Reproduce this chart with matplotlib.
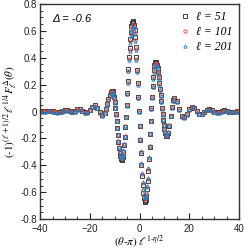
import matplotlib
matplotlib.use("Agg")
import matplotlib.pyplot as plt
from matplotlib.ticker import MultipleLocator

plt.rcParams["font.family"] = ["Liberation Sans", "DejaVu Sans"]
plt.rcParams["mathtext.fontset"] = "stix"

# scaled angle (theta - pi) * l^(1 - eta/2)
x_scaled = [-40, -39, -38, -37, -36, -35, -34, -33, -32, -31, -30, -29, -28, -27,
            -26, -25, -24, -23, -22, -21, -20, -19, -18, -17, -16, -15, -14,
            -13.5, -13, -12.5, -12, -11.5, -11, -10.5, -10, -9.5, -9, -8.5, -8,
            -7.5, -7, -6.5, -6, -5.5, -5, -4.5, -4, -3.5, -3, -2.5, -2, -1.5, -1,
            -0.5, 0, 0.5, 1, 1.5, 2, 2.5, 3, 3.5, 4, 4.5, 5, 5.5, 6, 6.5, 7, 7.5,
            8, 8.5, 9, 9.5, 10, 10.5, 11, 11.5, 12, 12.5, 13, 13.5, 14,
            15, 16, 17, 18, 19, 20, 21, 22, 23, 24, 25, 26, 27, 28, 29, 30, 31,
            32, 33, 34, 35, 36, 37, 38, 39, 40]

f_51 = [0.002, 0.003, 0.005, 0.006, 0.007, 0.005, -0.001, -0.003, -0.001, 0.005,
        0.010, 0.012, 0.007, -0.002, 0.001, 0.018, 0.020, 0.007, -0.006, -0.005,
        0.013, 0.037, 0.048, 0.030, -0.006, -0.029, -0.010,
        0.019, 0.056, 0.093, 0.126, 0.148, 0.156, 0.134, 0.072, -0.019, -0.124,
        -0.227, -0.307, -0.353, -0.356, -0.301, -0.190, -0.038, 0.137, 0.314,
        0.470, 0.591, 0.658, 0.664, 0.604, 0.480, 0.307, 0.107, -0.107, -0.307,
        -0.480, -0.604, -0.664, -0.657, -0.579, -0.443, -0.265, -0.072, 0.111,
        0.257, 0.348, 0.370, 0.347, 0.293, 0.213, 0.122, 0.026, -0.063, -0.132,
        -0.175, -0.184, -0.160, -0.105, -0.034, 0.035, 0.085, 0.104,
        0.077, 0.016, -0.036, -0.044, -0.019, 0.016, 0.036, 0.029, 0.004, -0.016,
        -0.015, -0.001, 0.014, 0.016, 0.009, -0.001, -0.006, -0.003, 0.005,
        0.008, 0.006, 0.000, -0.002, 0.000, 0.003, 0.005]

f_101 = [0.000, 0.001, 0.003, 0.004, 0.005, 0.003, -0.003, -0.005, -0.003, 0.003,
         0.008, 0.010, 0.005, -0.004, -0.001, 0.016, 0.018, 0.005, -0.008, -0.007,
         0.011, 0.035, 0.045, 0.028, -0.007, -0.029, -0.011,
         0.017, 0.053, 0.089, 0.121, 0.142, 0.150, 0.129, 0.069, -0.019, -0.121,
         -0.220, -0.298, -0.343, -0.345, -0.292, -0.185, -0.037, 0.133, 0.305,
         0.457, 0.574, 0.639, 0.645, 0.586, 0.466, 0.298, 0.104, -0.104, -0.298,
         -0.466, -0.586, -0.645, -0.637, -0.562, -0.430, -0.257, -0.070, 0.108,
         0.250, 0.338, 0.359, 0.337, 0.284, 0.207, 0.118, 0.025, -0.061, -0.128,
         -0.170, -0.179, -0.155, -0.102, -0.033, 0.034, 0.082, 0.100,
         0.074, 0.015, -0.035, -0.043, -0.019, 0.015, 0.034, 0.027, 0.002, -0.018,
         -0.017, -0.003, 0.012, 0.014, 0.007, -0.003, -0.008, -0.005, 0.003,
         0.006, 0.004, -0.002, -0.004, -0.002, 0.001, 0.003]

f_201 = [-0.003, -0.002, 0.000, 0.001, 0.002, 0.000, -0.006, -0.008, -0.006, 0.000,
         0.005, 0.007, 0.002, -0.007, -0.004, 0.013, 0.015, 0.002, -0.011, -0.010,
         0.008, 0.031, 0.041, 0.024, -0.010, -0.032, -0.014,
         0.013, 0.049, 0.085, 0.116, 0.137, 0.145, 0.124, 0.064, -0.022, -0.121,
         -0.218, -0.294, -0.338, -0.340, -0.288, -0.183, -0.038, 0.129, 0.298,
         0.447, 0.562, 0.626, 0.632, 0.574, 0.456, 0.292, 0.101, -0.103, -0.294,
         -0.459, -0.576, -0.634, -0.627, -0.553, -0.423, -0.254, -0.071, 0.103,
         0.243, 0.329, 0.350, 0.328, 0.276, 0.200, 0.113, 0.022, -0.062, -0.127,
         -0.168, -0.177, -0.153, -0.102, -0.035, 0.030, 0.078, 0.095,
         0.070, 0.012, -0.037, -0.045, -0.022, 0.012, 0.031, 0.024, -0.001, -0.021,
         -0.020, -0.006, 0.009, 0.011, 0.004, -0.006, -0.011, -0.008, 0.000,
         0.003, 0.001, -0.005, -0.007, -0.005, -0.002, 0.000]

# extra samples in the central oscillation, where the points are denser
x_mid = [-10.75, -10.25, -9.75, -9.25, -8.75, -8.25, -7.75, -7.25, -6.75, -6.25,
         -5.75, -5.25, -4.75, -4.25, -3.75, -3.25, -2.75, -2.25, -1.75, -1.25,
         -0.75, -0.25, 0.25, 0.75, 1.25, 1.75, 2.25, 2.75, 3.25, 3.75, 4.25,
         4.75, 5.25, 5.75, 6.25, 6.75, 7.25, 7.75, 8.25, 8.75, 9.25, 9.75,
         10.25, 10.75]

f_51_mid = [0.151, 0.109, 0.029, -0.070, -0.175, -0.270, -0.334, -0.360, -0.335,
            -0.252, -0.113, 0.049, 0.228, 0.405, 0.538, 0.633, 0.670, 0.643,
            0.551, 0.403, 0.214, 0.001, -0.211, -0.400, -0.548, -0.640, -0.669,
            -0.626, -0.517, -0.354, -0.167, 0.024, 0.193, 0.312, 0.369, 0.364,
            0.324, 0.258, 0.171, 0.075, -0.019, -0.099, -0.156, -0.184]

f_101_mid = [0.145, 0.104, 0.027, -0.069, -0.171, -0.263, -0.325, -0.350, -0.326,
             -0.245, -0.111, 0.046, 0.220, 0.392, 0.522, 0.614, 0.650, 0.623,
             0.534, 0.390, 0.207, 0.000, -0.207, -0.390, -0.534, -0.623, -0.650,
             -0.608, -0.502, -0.345, -0.164, 0.022, 0.186, 0.301, 0.357, 0.352,
             0.313, 0.249, 0.164, 0.071, -0.020, -0.098, -0.153, -0.179]

f_201_mid = [0.140, 0.100, 0.024, -0.070, -0.170, -0.260, -0.321, -0.345, -0.321,
             -0.242, -0.111, 0.043, 0.213, 0.383, 0.510, 0.600, 0.635, 0.609,
             0.521, 0.380, 0.201, -0.002, -0.205, -0.384, -0.525, -0.613, -0.639,
             -0.598, -0.494, -0.340, -0.163, 0.019, 0.180, 0.293, 0.348, 0.343,
             0.305, 0.242, 0.159, 0.068, -0.022, -0.098, -0.152, -0.177]

series = [
    (f_51, f_51_mid, "s", "#222222", "ℓ = 51"),
    (f_101, f_101_mid, "o", "#d24a3c", "ℓ = 101"),
    (f_201, f_201_mid, "^", "#2f7fc1", "ℓ = 201"),
]

fig = plt.figure(figsize=(2.49, 2.49), dpi=100)
ax = fig.add_axes([0.161, 0.120, 0.799, 0.864])

for y, y_mid, mk, col, lab in series:
    style = dict(ls="none", marker=mk, ms=2.4, mfc="none", mec=col, mew=0.6)
    ax.plot(x_scaled, y, label=lab, **style)
    ax.plot(x_mid, y_mid, **style)

ax.set_xlim(-40, 40)
ax.set_ylim(-0.8, 0.8)
ax.xaxis.set_major_locator(MultipleLocator(20))
ax.xaxis.set_minor_locator(MultipleLocator(5))
ax.set_yticks([-0.8, -0.6, -0.4, -0.2, 0, 0.2, 0.4, 0.6, 0.8])
ax.set_yticklabels(["-0.8", "-0.6", "-0.4", "-0.2", "0", "0.2", "0.4", "0.6", "0.8"])
ax.yaxis.set_minor_locator(MultipleLocator(0.05))
ax.tick_params(which="both", direction="in", labelsize=7, colors="#222222")
ax.tick_params(axis="y", pad=2)
ax.tick_params(axis="x", pad=3.5)
ax.tick_params(which="major", length=4, width=0.8)
ax.tick_params(which="minor", length=2, width=0.6)
for s in ax.spines.values():
    s.set_linewidth(1.0)
    s.set_color("#333333")

ax.set_xlabel(r"$(\theta$-$\pi)\ \ell^{1\text{-}\eta/2}$", fontsize=8, labelpad=0)
ax.set_ylabel(r"$(\text{-}1)^{(\ell+1)/2}\,\ell^{1/4}F^{\Delta}_{\ell}(\theta)$",
              fontsize=8, labelpad=1)

ax.text(-35.3, 0.69, "Δ = -0.6", fontsize=8, fontstyle="italic", va="center")

ax.legend(loc="upper right", frameon=False, handlelength=1.0, handletextpad=0.4,
          borderaxespad=0.2, labelspacing=0.25,
          prop={"family": ["Liberation Serif", "DejaVu Serif"], "style": "italic",
                "size": 8.5})

fig.savefig("out.png", dpi=100)
